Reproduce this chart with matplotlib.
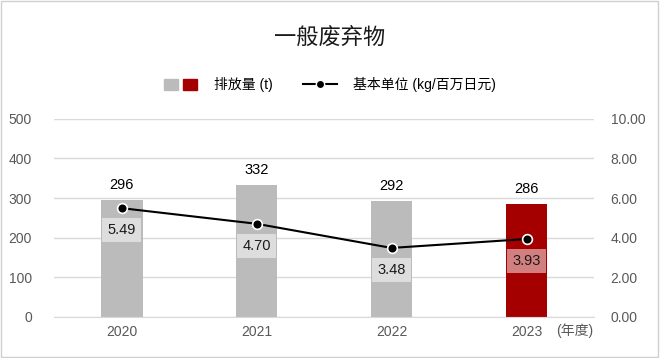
import matplotlib
matplotlib.use("Agg")
import matplotlib.pyplot as plt
from matplotlib.patches import Patch, Rectangle
from matplotlib.lines import Line2D
from matplotlib.legend_handler import HandlerTuple

plt.rcParams['font.family'] = ['Liberation Sans', 'Noto Sans CJK SC']

years = ['2020', '2021', '2022', '2023']
emissions = [296, 332, 292, 286]
intensity = [5.49, 4.70, 3.48, 3.93]
bar_colors = ['#BBBBBB', '#BBBBBB', '#BBBBBB', '#A50000']

fig = plt.figure(figsize=(6.6, 3.58), dpi=100)
ax = fig.add_axes([0.082, 0.115, 0.818, 0.553])
ax2 = ax.twinx()

x = range(len(years))
ax.bar(x, emissions, width=0.31, color=bar_colors, zorder=2)
for i, v in enumerate(emissions):
    ax.text(i, v + 20, str(v), ha='center', va='bottom', fontsize=10.5, color='#000000')

ax.set_ylim(0, 500)
ax.set_yticks(range(0, 501, 100))
ax.set_xlim(-0.5, 3.5)
ax.set_xticks(list(x))
ax.set_xticklabels(years)
ax.grid(axis='y', color='#D9D9D9', linewidth=1, zorder=0)
ax.set_axisbelow(True)
for s in ['top', 'right', 'left']:
    ax.spines[s].set_visible(False)
ax.spines['bottom'].set_color('#D9D9D9')
ax.tick_params(axis='y', length=0, labelsize=10, colors='#595959', pad=16)
ax.tick_params(axis='x', length=0, labelsize=10, colors='#595959', pad=6)

ax2.plot(list(x), intensity, color='black', linewidth=1.5, marker='o',
         markersize=7, markerfacecolor='black', markeredgecolor='white',
         markeredgewidth=1.2, zorder=3)
for i, v in enumerate(intensity):
    ax2.text(i, v - 1.12, f'{v:.2f}', ha='center', va='center', fontsize=10.5,
             color='#1a1a1a',
             bbox=dict(boxstyle='square,pad=0.35', facecolor='white', alpha=0.5,
                       edgecolor='none'))
ax2.set_ylim(0, 10)
ax2.set_yticks(range(0, 11, 2))
ax2.set_yticklabels([f'{t:.2f}' for t in range(0, 11, 2)])
for s in ['top', 'right', 'left', 'bottom']:
    ax2.spines[s].set_visible(False)
ax2.tick_params(axis='y', length=0, labelsize=10, colors='#595959', pad=12)

ax.text(0.93, -0.035, '(年度)', transform=ax.transAxes, ha='left', va='top',
        fontsize=10, color='#595959')

fig.text(0.5, 0.893, '一般废弃物', ha='center', va='center', fontsize=16, color='#1a1a1a')

h_bar = (Patch(color='#BBBBBB'), Patch(color='#A50000'))
h_line = Line2D([], [], color='black', linewidth=1.5, marker='o', markersize=6,
                markerfacecolor='black', markeredgecolor='white')
fig.legend([h_bar, h_line], ['排放量 (t)', '基本单位 (kg/百万日元)'],
           handler_map={tuple: HandlerTuple(ndivide=None, pad=0.35)},
           loc='center', bbox_to_anchor=(0.5, 0.763), ncol=2, frameon=False,
           fontsize=10, handlelength=2.4, handleheight=0.85, columnspacing=2.2,
           handletextpad=1.2)

fig.patches.append(Rectangle((0.001, 0.002), 0.996, 0.995, transform=fig.transFigure,
                             fill=False, edgecolor='#D0D0D0', linewidth=1))

fig.savefig('out.png', dpi=100)
